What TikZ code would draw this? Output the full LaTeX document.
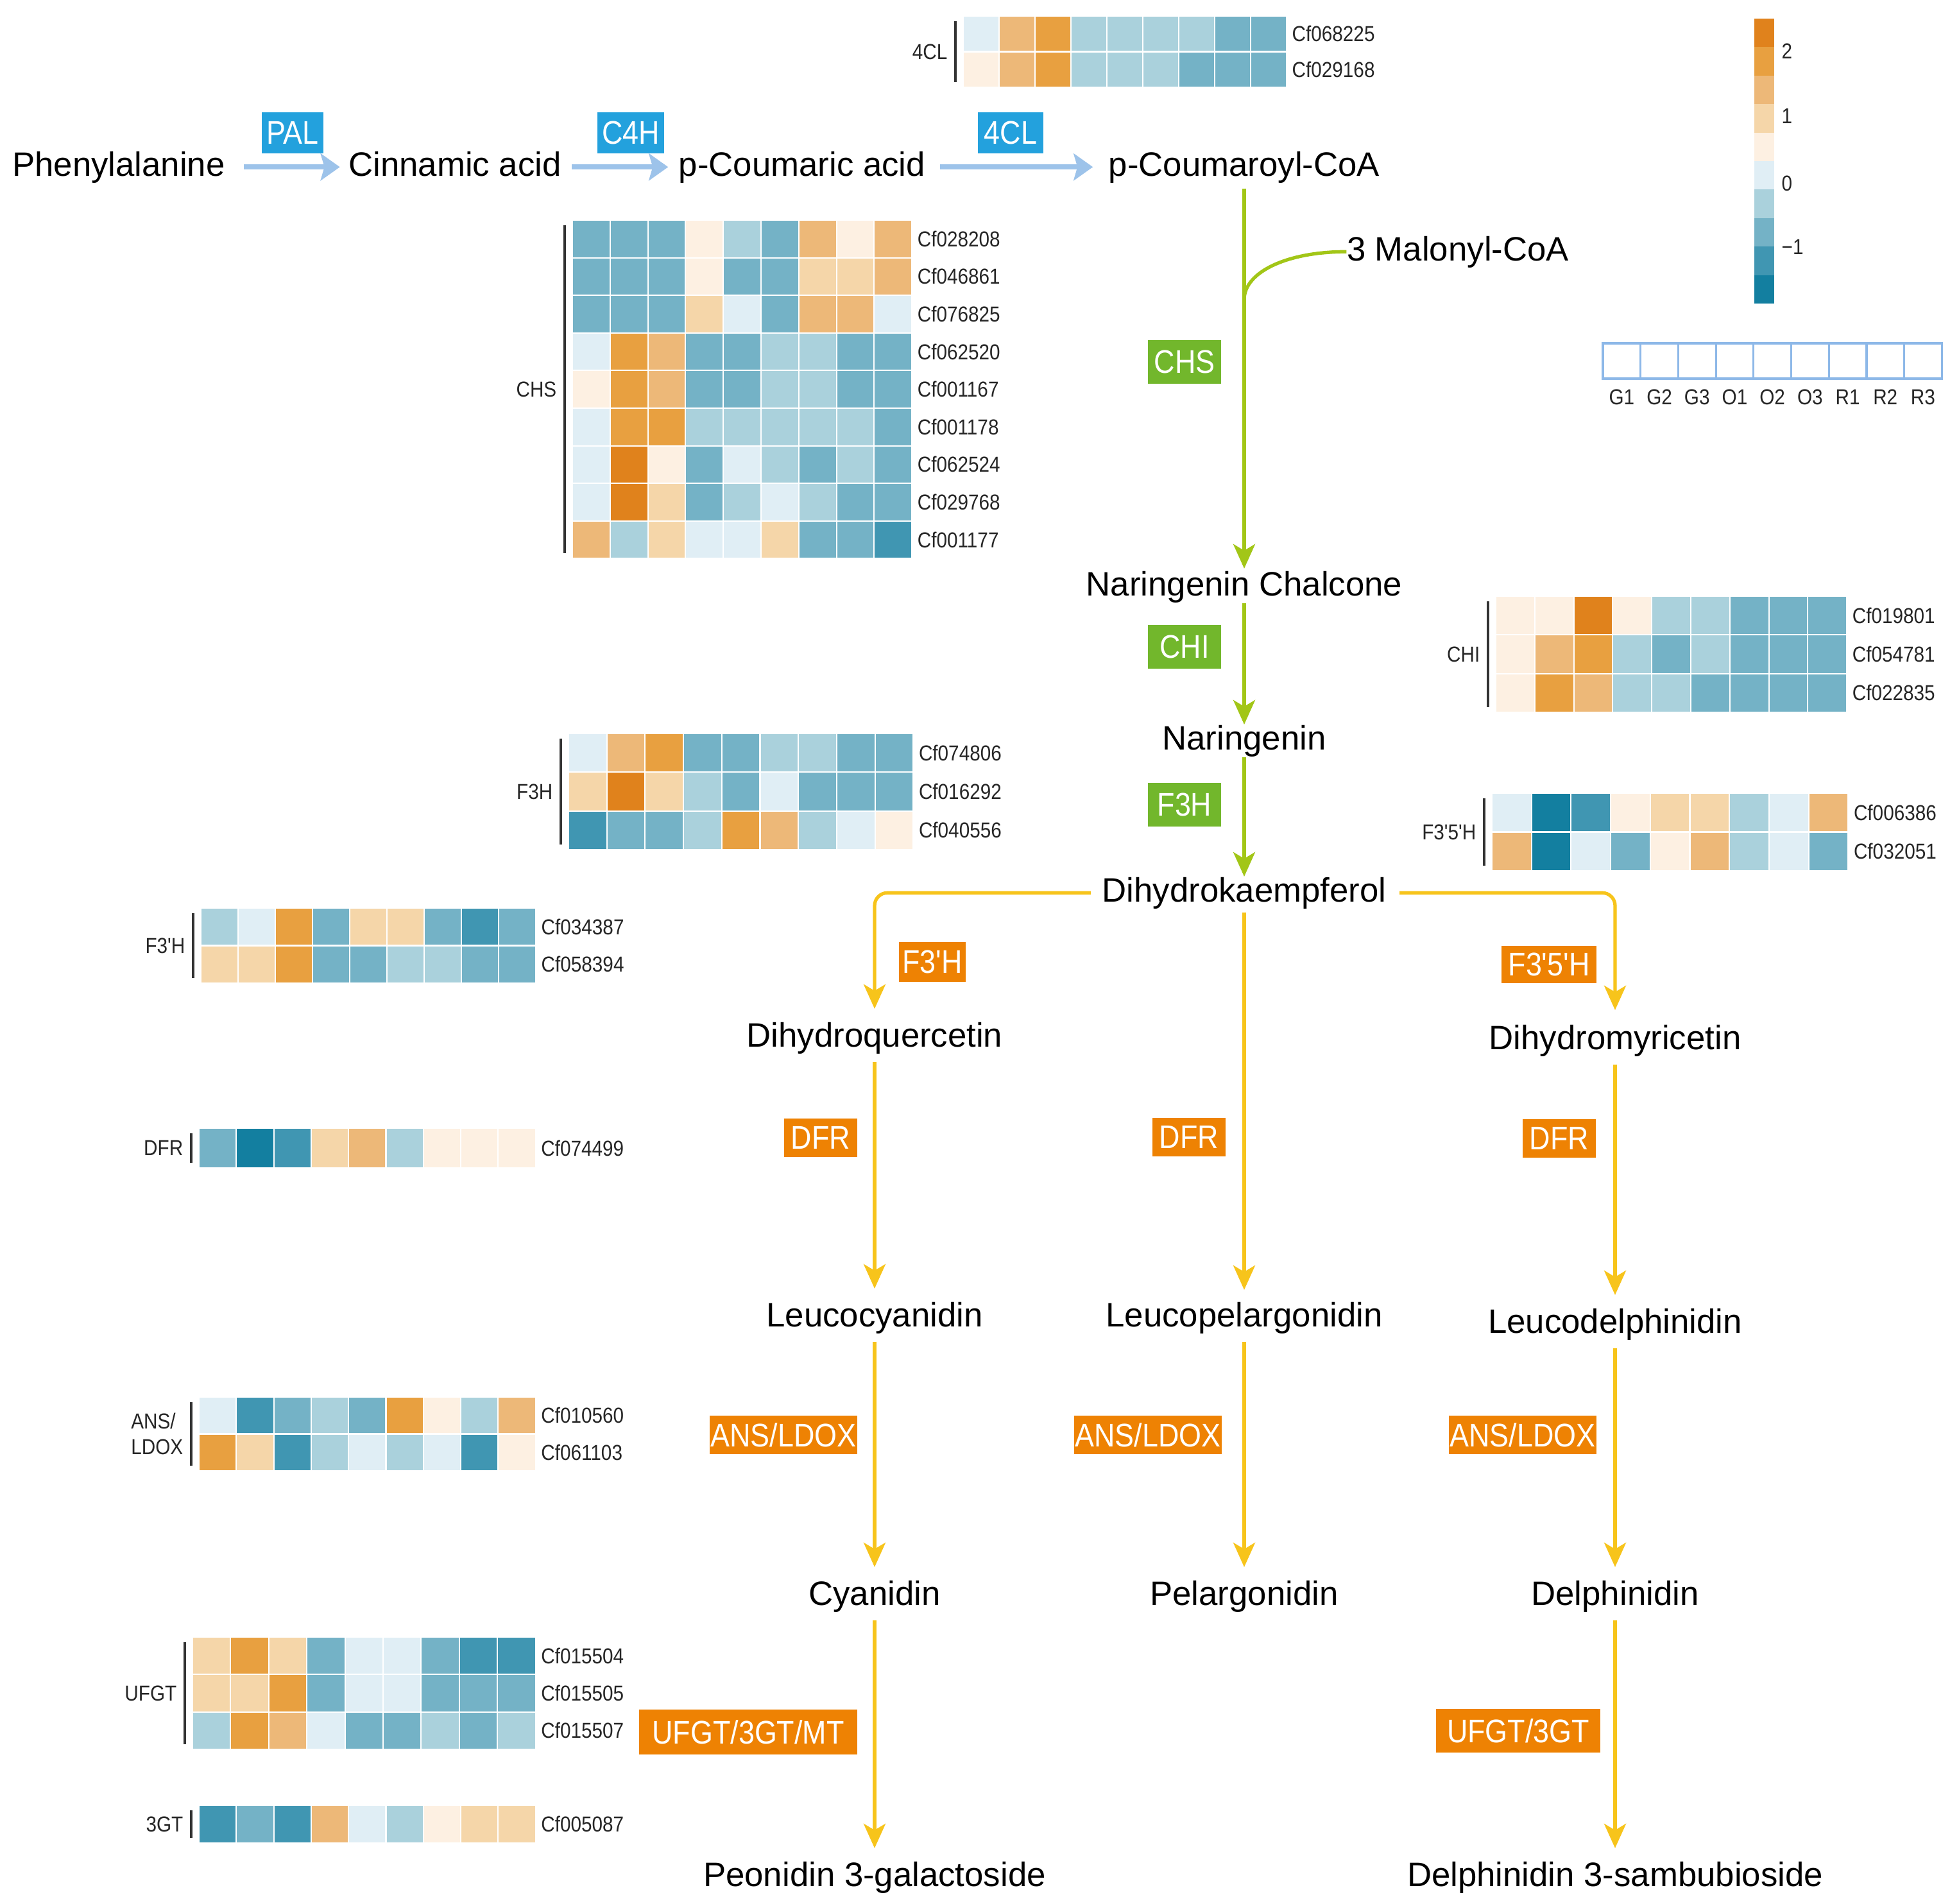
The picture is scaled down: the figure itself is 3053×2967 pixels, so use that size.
\documentclass[tikz,border=0pt]{standalone}
\usepackage{fontspec}
\setmainfont{Liberation Sans}
\newfontfamily\condfont[FakeStretch=0.88]{Liberation Sans}
\usetikzlibrary{arrows.meta}
\definecolor{h1}{HTML}{E0821C}
\definecolor{h2}{HTML}{E8A040}
\definecolor{h3}{HTML}{EDB878}
\definecolor{h4}{HTML}{F5D6A9}
\definecolor{h5}{HTML}{FDF0E2}
\definecolor{h6}{HTML}{E0EEF5}
\definecolor{h7}{HTML}{AAD1DC}
\definecolor{h8}{HTML}{74B2C6}
\definecolor{h9}{HTML}{4096B2}
\definecolor{h0}{HTML}{137FA0}
\definecolor{ablue}{HTML}{9DC3EA}
\definecolor{agreen}{HTML}{A2C617}
\definecolor{ayellow}{HTML}{F7C41B}
\definecolor{bblue}{HTML}{23A1DD}
\definecolor{bgreen}{HTML}{72B72C}
\definecolor{borange}{HTML}{EE8203}
\definecolor{sblue}{HTML}{8DB8E8}
\tikzset{
  txt/.style={font=\fontsize{15pt}{18pt}\selectfont, inner sep=0pt, text height=11pt, text depth=3pt, yshift=-1.5pt},
  gl/.style={font=\condfont\fontsize{9.6pt}{11.5pt}\selectfont, inner sep=0pt, text=black!85},
  ebox/.style={font=\condfont\fontsize{14.5pt}{16pt}\selectfont, text=white, inner sep=0pt},
  bluebox/.style={ebox, fill=bblue},
  greenbox/.style={ebox, fill=bgreen},
  orangebox/.style={ebox, fill=borange},
  barrow/.style={draw=ablue, line width=2.4pt, -{Stealth[length=0.3cm,width=0.42cm,inset=0.06cm]}},
  garrow/.style={draw=agreen, line width=1.5pt, -{Stealth[length=0.38cm,width=0.34cm,inset=0.1cm]}},
  gline/.style={draw=agreen, line width=1.5pt},
  yarrow/.style={draw=ayellow, line width=1.5pt, -{Stealth[length=0.38cm,width=0.34cm,inset=0.1cm]}},
  vy/.style={yarrow, shorten <=0.12cm, shorten >=0.2cm},
  brk/.style={draw=black!80, line width=0.9pt},
  cell/.style={draw=white, line width=0.6pt},
  sbox/.style={draw=sblue, line width=0.9pt}
}
% #1 name, #2 label, #3 x0, #4 y0, #5 cell w, #6 cell h, #7 genes, #8 data, #9 rows
\newcommand{\heatmap}[9]{%
  \foreach \row [count=\r] in {#8} {
    \foreach \v [count=\c] in \row {
      \filldraw[cell, fill=h\v] ({#3+(\c-1)*#5},{#4+(\r-1)*#6}) rectangle ++(#5,#6);
    }
  }
  \foreach \g [count=\r] in {#7} {
    \node[gl, anchor=west] (\g) at ({#3+9*#5+8},{#4+(\r-0.5)*#6}) {\g};
  }
  \draw[brk] ({#3-12},{#4+8}) -- ({#3-12},{#4+#9*#6-8});
  \node[gl, anchor=east, align=left] (#1) at ({#3-24},{#4+#9*#6/2}) {#2};
}
\begin{document}
\begin{tikzpicture}[x=0.01cm, y=-0.01cm]
\fill[white] (0,0) rectangle (3053,2967);
\useasboundingbox (0,0) rectangle (3053,2967);

% ---------- heatmaps ----------
\heatmap{hm4cl}{4CL}{1501}{25}{56}{55.5}{Cf068225,Cf029168}
  {{6,3,2,7,7,7,7,8,8},{5,3,2,7,7,7,8,8,8}}{2}
\heatmap{hmchs}{CHS}{892}{343}{58.8}{58.6}
  {Cf028208,Cf046861,Cf076825,Cf062520,Cf001167,Cf001178,Cf062524,Cf029768,Cf001177}
  {{8,8,8,5,7,8,3,5,3},{8,8,8,5,8,8,4,4,3},{8,8,8,4,6,8,3,3,6},
   {6,2,3,8,8,7,7,8,8},{5,2,3,8,8,7,7,8,8},{6,2,2,7,7,7,7,7,8},
   {6,1,5,8,6,7,8,7,8},{6,1,4,8,7,6,7,8,8},{3,7,4,6,6,4,8,8,9}}{9}
\heatmap{hmchi}{CHI}{2331}{929}{60.8}{60.3}{Cf019801,Cf054781,Cf022835}
  {{5,5,1,5,7,7,8,8,8},{5,3,2,7,8,7,8,8,8},{5,2,3,7,7,8,8,8,8}}{3}
\heatmap{hmf3h}{F3H}{886}{1143}{59.7}{60.3}{Cf074806,Cf016292,Cf040556}
  {{6,3,2,8,8,7,7,8,8},{4,1,4,7,8,6,8,8,8},{9,8,8,7,2,3,7,6,5}}{3}
\heatmap{hmf35h}{F3'5'H}{2325}{1236}{61.7}{60.5}{Cf006386,Cf032051}
  {{6,0,9,5,4,4,7,6,3},{3,0,6,8,5,3,7,6,8}}{2}
\heatmap{hmf3ph}{F3'H}{313}{1415}{58}{58.5}{Cf034387,Cf058394}
  {{7,6,2,8,4,4,8,9,8},{4,4,2,8,8,7,7,8,8}}{2}
\heatmap{hmdfr}{DFR}{310}{1758}{58.3}{62}{Cf074499}
  {{8,0,9,4,3,7,5,5,5}}{1}
\heatmap{hmans}{ANS/\\LDOX}{310}{2177}{58.3}{57.5}{Cf010560,Cf061103}
  {{6,9,8,7,8,2,5,7,3},{2,4,9,7,6,7,6,9,5}}{2}
\heatmap{hmufgt}{UFGT}{300}{2551}{59.4}{58.3}{Cf015504,Cf015505,Cf015507}
  {{4,2,4,8,6,6,8,9,9},{4,4,2,8,6,6,8,8,8},{7,2,3,6,8,8,7,8,7}}{3}
\heatmap{hm3gt}{3GT}{310}{2813}{58.3}{59}{Cf005087}
  {{9,8,9,3,6,7,5,4,4}}{1}

% ---------- legend ----------
\foreach \v [count=\i] in {1,2,3,4,5,6,7,8,9,0}
  \fill[fill=h\v] (2734,{29+(\i-1)*44.4}) rectangle ++(31,44.4);
\node[gl, anchor=west] (tk2) at (2776,80) {2};
\node[gl, anchor=west] (tk1) at (2776,181) {1};
\node[gl, anchor=west] (tk0) at (2776,286) {0};
\node[gl, anchor=west] (tkm1) at (2776,385) {−1};
\foreach \s [count=\i] in {G1,G2,G3,O1,O2,O3,R1,R2,R3} {
  \draw[sbox] ({2498+(\i-1)*58.7},535) rectangle ++(58.7,55);
  \node[gl] (smp\s) at ({2498+(\i-0.5)*58.7},619) {\s};
}

% ---------- compounds ----------
\node[txt] (phe)  at (185,255)  {Phenylalanine};
\node[txt] (cin)  at (709,255)  {Cinnamic acid};
\node[txt] (pca)  at (1250,255) {p-Coumaric acid};
\node[txt] (pcoa) at (1939,255) {p-Coumaroyl-CoA};
\node[txt] (mal)  at (2272,387) {3 Malonyl-CoA};
\node[txt] (nch)  at (1939,909) {Naringenin Chalcone};
\node[txt] (nar)  at (1939,1149) {Naringenin};
\node[txt] (dhk)  at (1939,1386) {Dihydrokaempferol};
\node[txt] (dq)   at (1363,1612) {Dihydroquercetin};
\node[txt] (dm)   at (2517,1616) {Dihydromyricetin};
\node[txt] (lc)   at (1363,2048) {Leucocyanidin};
\node[txt] (lp)   at (1939,2048) {Leucopelargonidin};
\node[txt] (ld)   at (2517,2058) {Leucodelphinidin};
\node[txt] (cy)   at (1363,2482) {Cyanidin};
\node[txt] (pel)  at (1939,2482) {Pelargonidin};
\node[txt] (del)  at (2517,2482) {Delphinidin};
\node[txt] (peo)  at (1363,2920) {Peonidin 3-galactoside};
\node[txt] (dsb)  at (2517,2920) {Delphinidin 3-sambubioside};

% ---------- enzymes ----------
\node[bluebox, minimum width=0.95cm, minimum height=0.64cm] (pal) at (456,207) {PAL};
\node[bluebox, minimum width=1.03cm, minimum height=0.64cm] (c4h) at (983,207) {C4H};
\node[bluebox, minimum width=1.02cm, minimum height=0.64cm] (fcl) at (1575,207) {4CL};
\node[greenbox, minimum width=1.13cm, minimum height=0.68cm] (chs) at (1846,564) {CHS};
\node[greenbox, minimum width=1.13cm, minimum height=0.68cm] (chi) at (1846,1008) {CHI};
\node[greenbox, minimum width=1.13cm, minimum height=0.68cm] (f3h) at (1846,1254) {F3H};
\node[orangebox, minimum width=1.03cm, minimum height=0.62cm] (f3ph) at (1453,1499) {F3'H};
\node[orangebox, minimum width=1.48cm, minimum height=0.58cm] (f35h) at (2414,1503) {F3'5'H};
\node[orangebox, minimum width=1.13cm, minimum height=0.60cm] (dfra) at (1279,1773) {DFR};
\node[orangebox, minimum width=1.13cm, minimum height=0.60cm] (dfrb) at (1853,1772) {DFR};
\node[orangebox, minimum width=1.13cm, minimum height=0.60cm] (dfrc) at (2430,1774) {DFR};
\node[orangebox, minimum width=2.30cm, minimum height=0.60cm] (ansa) at (1221,2236) {ANS/LDOX};
\node[orangebox, minimum width=2.30cm, minimum height=0.60cm] (ansb) at (1789,2236) {ANS/LDOX};
\node[orangebox, minimum width=2.30cm, minimum height=0.60cm] (ansc) at (2373,2236) {ANS/LDOX};
\node[orangebox, minimum width=3.39cm, minimum height=0.70cm] (ufa) at (1166,2699) {UFGT/3GT/MT};
\node[orangebox, minimum width=2.55cm, minimum height=0.67cm] (ufb) at (2366,2697) {UFGT/3GT};

% ---------- connectors ----------
\draw[barrow, shorten <=0.29cm, shorten >=0.13cm] (phe.east) -- (cin.west);
\draw[barrow, shorten <=0.16cm, shorten >=0.16cm] (cin.east) -- (pca.west);
\draw[barrow, shorten <=0.22cm, shorten >=0.24cm] (pca.east) -- (pcoa.west);

\coordinate (join) at (1939,467);
\draw[garrow, shorten <=0.08cm, shorten >=0.03cm] (pcoa.south) -- (nch.north);
\draw[gline] (mal.west) .. controls (2008,392) and (1939,423) .. (join);
\draw[garrow] (nch.south) -- (nar.north);
\draw[garrow] (nar.south) -- (dhk.north);

\draw[yarrow, rounded corners=0.2cm, shorten <=0.17cm, shorten >=0.2cm] (dhk.west) -| (dq.north);
\draw[yarrow, rounded corners=0.2cm, shorten <=0.2cm, shorten >=0.22cm] (dhk.east) -| (dm.north);
\draw[yarrow, shorten <=0.05cm, shorten >=0.18cm] (dhk.south) -- (lp.north);
\draw[vy] (dq.south) -- (lc.north);
\draw[vy] (lc.south) -- (cy.north);
\draw[vy] (cy.south) -- (peo.north);
\draw[vy] (lp.south) -- (pel.north);
\draw[vy] (dm.south) -- (ld.north);
\draw[vy] (ld.south) -- (del.north);
\draw[vy] (del.south) -- (dsb.north);
\end{tikzpicture}
\end{document}
